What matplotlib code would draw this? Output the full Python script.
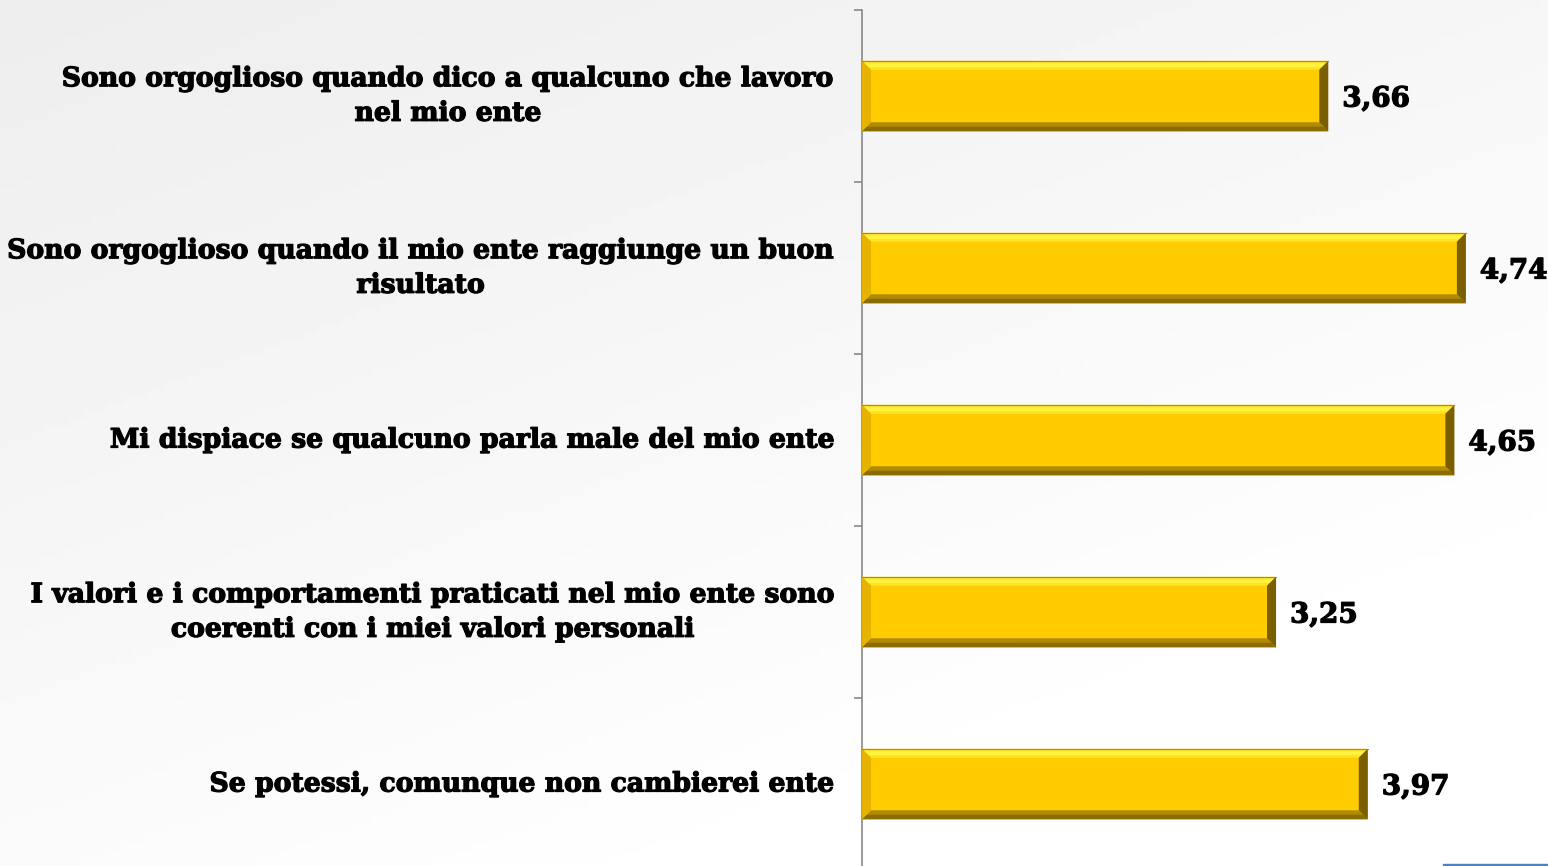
import numpy as np
import matplotlib.pyplot as plt
import matplotlib.patheffects as pe
from matplotlib.patches import Polygon, Rectangle

# data
labels = [
    "Sono orgoglioso quando dico a qualcuno che lavoro\nnel mio ente",
    "Sono orgoglioso quando il mio ente raggiunge un buon\nrisultato",
    "Mi dispiace se qualcuno parla male del mio ente",
    "I valori e i comportamenti praticati nel mio ente sono\ncoerenti con i miei valori personali",
    "Se potessi, comunque non cambierei ente",
]
values = [3.66, 4.74, 4.65, 3.25, 3.97]
value_text = ["3,66", "4,74", "4,65", "3,25", "3,97"]

W, H = 1548, 866
fig = plt.figure(figsize=(W / 100, H / 100), dpi=100)

# background gradient
bg = fig.add_axes([0, 0, 1, 1], zorder=-10)
xx, yy = np.meshgrid(np.linspace(0, 1, 200), np.linspace(0, 1, 120))
g = 0.93 + 0.07 * np.clip((xx * 0.6 + yy * 0.9) / 1.2, 0, 1)
bg.imshow(g, cmap="gray", vmin=0, vmax=1, aspect="auto", extent=[0, 1, 0, 1], origin="upper")
bg.axis("off")
bg.add_patch(Rectangle((1443 / W, 0), 105 / W, 2.5 / H, color="#4f81bd", transform=bg.transAxes))

x0 = 862
px_unit = 127.4
ax = fig.add_axes([x0 / W, 0, (W - x0) / W, (H - 10) / H])
ax.patch.set_alpha(0)
ax.set_xlim(0, (W - x0) / px_unit)
ax.set_ylim(4.5 - 4 / 172, -0.5)

y = np.arange(len(values))
bh = 0.41
bars = ax.barh(y, values, height=bh, color="#FFCC00", edgecolor="none", zorder=2)

# bevel effect
bx = 9 / px_unit
by = 9 / 172
for yi, v in zip(y, values):
    t, b = yi - bh / 2, yi + bh / 2
    ax.add_patch(Polygon([(0, t), (v, t), (v - bx, t + by), (bx, t + by)], color="#FFE22A", zorder=3, lw=0))
    ax.add_patch(Polygon([(0, t + by * 0.3), (v - bx * 0.3, t + by * 0.3), (v - bx * 0.7, t + by * 0.7), (bx * 0.7, t + by * 0.7)],
                         color="#FFF33C", zorder=3, lw=0))
    ax.add_patch(Polygon([(0, b), (v, b), (v - bx, b - by), (bx, b - by)], color="#B08A00", zorder=3, lw=0))
    ax.add_patch(Polygon([(0, b), (v, b), (v - bx * 0.5, b - by * 0.5), (bx * 0.5, b - by * 0.5)], color="#8A6C00", zorder=3, lw=0))
    ax.add_patch(Polygon([(v, t), (v, b), (v - bx, b - by), (v - bx, t + by)], color="#7A5E00", zorder=3, lw=0))
    ax.add_patch(Polygon([(0, t), (0, b), (bx, b - by), (bx, t + by)], color="#E6B400", zorder=3, lw=0))
    ax.plot([0, v], [t, t], color="#9a8a50", lw=0.8, zorder=4)

thick = [pe.withStroke(linewidth=0.9, foreground="black")]

for yi, v, s in zip(y, values, value_text):
    ax.text(v + 14 / px_unit, yi + 3 / 172, s, va="center", ha="left", fontsize=20,
            fontweight="bold", family="DejaVu Serif", color="black", path_effects=thick)

for sp in ["top", "right", "bottom"]:
    ax.spines[sp].set_visible(False)
ax.spines["left"].set_color("#888888")
ax.spines["left"].set_linewidth(1.2)
ax.set_xticks([])
ax.set_yticks(np.arange(-0.5, 4.0, 1.0))
ax.set_yticklabels([])
ax.tick_params(axis="y", length=6, width=1.2, color="#888888", direction="out")

for yi, lab in zip(y, labels):
    ax.text(-28 / px_unit, yi, lab, ha="right", va="center", multialignment="center",
            fontsize=19.2, fontweight="bold", family="DejaVu Serif", color="black",
            linespacing=1.36, clip_on=False, path_effects=thick)

fig.savefig("out.png", dpi=100)
